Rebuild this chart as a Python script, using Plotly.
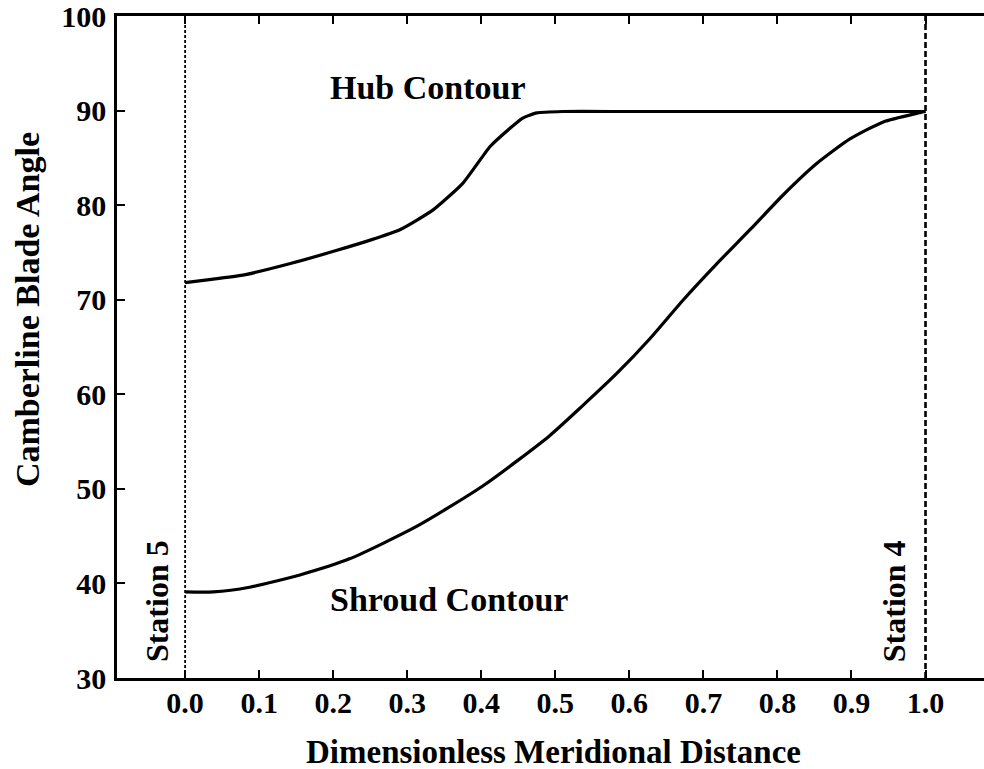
import plotly.graph_objects as go

# Meridional position (0 = Station 5, 1 = Station 4) and camberline blade angle
hub_x = [0.0, 0.03, 0.078, 0.141, 0.204, 0.25, 0.29, 0.335, 0.375, 0.412, 0.44, 0.456,
         0.475, 0.51, 0.6, 0.75, 0.9, 1.0]
hub_y = [71.8, 72.1, 72.6, 73.8, 75.2, 76.3, 77.4, 79.5, 82.3, 86.2, 88.2, 89.2,
         89.75, 89.9, 89.9, 89.9, 89.9, 89.9]

shroud_x = [0.0, 0.038, 0.087, 0.155, 0.222, 0.312, 0.402, 0.492, 0.537, 0.583, 0.628,
            0.673, 0.718, 0.763, 0.808, 0.853, 0.898, 0.943, 0.988, 1.0]
shroud_y = [39.1, 39.1, 39.6, 40.9, 42.6, 46.0, 50.3, 55.6, 58.8, 62.2, 65.9,
            70.0, 73.8, 77.4, 81.1, 84.4, 87.0, 88.8, 89.7, 89.9]

x_ticks = [0.0, 0.1, 0.2, 0.3, 0.4, 0.5, 0.6, 0.7, 0.8, 0.9, 1.0]
y_ticks = [30, 40, 50, 60, 70, 80, 90, 100]

station_x = [0.0, 1.0]
station_labels = ["Station 5", "Station 4"]

FONT = "Liberation Serif"

fig = go.Figure()
fig.add_trace(go.Scatter(x=hub_x, y=hub_y, mode="lines",
                         line=dict(color="black", width=3.2, shape="spline", smoothing=0.5),
                         showlegend=False))
fig.add_trace(go.Scatter(x=shroud_x, y=shroud_y, mode="lines",
                         line=dict(color="black", width=3.2, shape="spline", smoothing=0.6),
                         showlegend=False))

# station boundaries
fig.add_shape(type="line", x0=station_x[0], x1=station_x[0], y0=30, y1=100,
              xref="x", yref="y", line=dict(color="black", width=1.8, dash="3px,2px"))
fig.add_shape(type="line", x0=station_x[1], x1=station_x[1], y0=30, y1=100,
              xref="x", yref="y", line=dict(color="black", width=2.6, dash="6px,3px"))

bold = dict(family=FONT, color="black", weight="bold")

fig.add_annotation(x=-0.037, y=38.1, text=station_labels[0], textangle=-90,
                   showarrow=False, font=dict(size=32, **bold))
fig.add_annotation(x=0.9585, y=38.1, text=station_labels[1], textangle=-90,
                   showarrow=False, font=dict(size=32, **bold))
fig.add_annotation(x=0.328, y=92.4, text="Hub Contour",
                   showarrow=False, font=dict(size=34, **bold))
fig.add_annotation(x=0.356, y=38.3, text="Shroud Contour",
                   showarrow=False, font=dict(size=34, **bold))

# axis titles
fig.add_annotation(xref="paper", yref="paper", x=0.504, y=-0.112,
                   text="Dimensionless Meridional Distance", showarrow=False,
                   xanchor="center", yanchor="middle", font=dict(size=33, **bold))
fig.add_annotation(xref="paper", yref="paper", x=-0.104, y=0.557,
                   text="Camberline Blade Angle", textangle=-90, showarrow=False,
                   xanchor="center", yanchor="middle", font=dict(size=34, **bold))

fig.update_xaxes(range=[-0.092, 1.079], tickvals=x_ticks, tickformat=".1f",
                 ticks="inside", ticklen=8, tickwidth=2, tickcolor="black",
                 showline=True, linecolor="black", linewidth=2.5, mirror="ticks",
                 showgrid=False, zeroline=False, ticklabeloverflow="allow",
                 tickfont=dict(size=30, **bold), ticklabelstandoff=-4)
fig.update_yaxes(range=[30, 100], tickvals=y_ticks,
                 ticks="inside", ticklen=8, tickwidth=2, tickcolor="black",
                 showline=True, linecolor="black", linewidth=2.5, mirror=False,
                 showgrid=False, zeroline=False, ticklabeloverflow="allow",
                 tickfont=dict(size=30, **bold), ticklabelstandoff=2)

fig.update_layout(width=984, height=769,
                  margin=dict(l=117, r=0, t=16, b=91),
                  paper_bgcolor="white", plot_bgcolor="white",
                  font=dict(family=FONT, color="black"))

fig.write_html("out.html")
